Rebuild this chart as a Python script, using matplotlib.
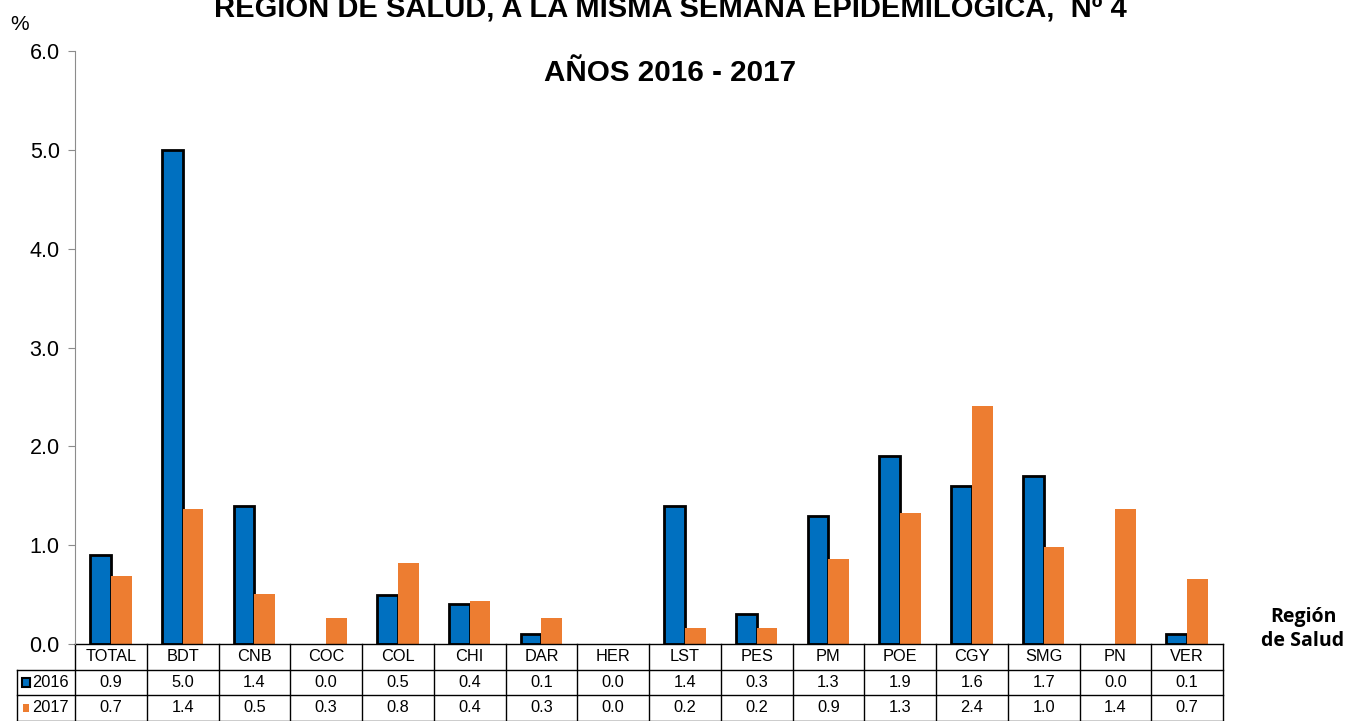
import numpy as np
import matplotlib.pyplot as plt
from matplotlib.patches import Rectangle

regions = ['TOTAL', 'BDT', 'CNB', 'COC', 'COL', 'CHI', 'DAR', 'HER',
           'LST', 'PES', 'PM', 'POE', 'CGY', 'SMG', 'PN', 'VER']
y2016 = [0.9, 5.0, 1.4, 0.0, 0.5, 0.4, 0.1, 0.0,
         1.4, 0.3, 1.3, 1.9, 1.6, 1.7, 0.0, 0.1]
y2017 = [0.69, 1.37, 0.51, 0.26, 0.82, 0.44, 0.26, 0.0,
         0.16, 0.16, 0.86, 1.33, 2.41, 0.98, 1.37, 0.66]
years = ['2016', '2017']

blue = '#0070C0'
orange = '#ED7D31'
plt.rcParams['font.family'] = ['Liberation Sans', 'DejaVu Sans']

fig = plt.figure(figsize=(13.47, 7.21), dpi=100)
ax = fig.add_axes([75/1347, 77/721, 1148/1347, 593/721])

x = np.arange(len(regions))
w = 0.29
# zero values get no outline, as in the original
lw16 = [2 if v > 0 else 0 for v in y2016]
ax.bar(x - w/2, y2016, w, color=blue, edgecolor='black', linewidth=lw16)
ax.bar(x + w/2, y2017, w, color=orange, edgecolor='none')

ax.set_xlim(-0.5, len(regions) - 0.5)
ax.set_ylim(0, 6)
ax.set_yticks(np.arange(0, 7, 1))
ax.set_yticklabels([f'{v:.1f}' for v in np.arange(0, 7, 1)], fontsize=15.5)
ax.set_xticks([])
for s in ['top', 'right', 'bottom']:
    ax.spines[s].set_visible(False)
ax.spines['left'].set_color('#8c8c8c')
ax.tick_params(axis='y', color='#8c8c8c', length=5, pad=6)

# data table under the plot
h = 25.5 / 593
trans = ax.get_xaxis_transform()
lx = (17 - 75) / 1148
lk = dict(color='black', lw=1, clip_on=False)
ax.plot([-0.5, len(regions) - 0.5], [0, 0], transform=trans, **lk)
for r in [1, 2, 3]:
    ax.plot([lx, 1], [-r*h, -r*h], transform=ax.transAxes, **lk)
for b in np.arange(len(regions) + 1) - 0.5:
    ax.plot([b, b], [0, -3*h], transform=trans, **lk)
ax.plot([lx, lx], [-h, -3*h], transform=ax.transAxes, **lk)

fs = 11.8
for i, reg in enumerate(regions):
    ax.text(i, -0.5*h, reg, transform=trans, ha='center', va='center', fontsize=fs)
    ax.text(i, -1.5*h, f'{y2016[i]:.1f}', transform=trans, ha='center', va='center', fontsize=fs)
    ax.text(i, -2.5*h, f'{y2017[i]:.1f}', transform=trans, ha='center', va='center', fontsize=fs)

for r, (yr, col) in enumerate(zip(years, [blue, orange])):
    yc = -(1.5 + r) * h
    if r == 0:
        ax.add_patch(Rectangle((lx + 0.0045, yc - 0.0075), 0.0065, 0.015, transform=ax.transAxes,
                               facecolor=col, edgecolor='black', lw=1.5, clip_on=False))
    else:
        ax.add_patch(Rectangle((lx + 0.005, yc - 0.0065), 0.0055, 0.013, transform=ax.transAxes,
                               facecolor=col, edgecolor='none', clip_on=False))
    ax.text(lx + 0.0135, yc, yr, transform=ax.transAxes, ha='left', va='center', fontsize=fs)

fig.text(670/1347, 1 - 17/721, 'REGIÓN DE SALUD, A LA MISMA SEMANA EPIDEMILOGICA,  Nº 4',
         ha='center', va='baseline', fontsize=21, fontweight='bold')
fig.text(670/1347, 1 - 73/721, 'AÑOS 2016 - 2017', ha='center', va='center',
         fontsize=21.3, fontweight='bold')
fig.text(20/1347, 1 - 25/721, '%', ha='center', va='center', fontsize=15)
fig.text(1303/1347, 1 - 629/721, 'Región\nde Salud', ha='center', va='center',
         fontsize=14, fontweight='bold', family='Open Sans', linespacing=1.3)

fig.savefig('out.png', dpi=100)
